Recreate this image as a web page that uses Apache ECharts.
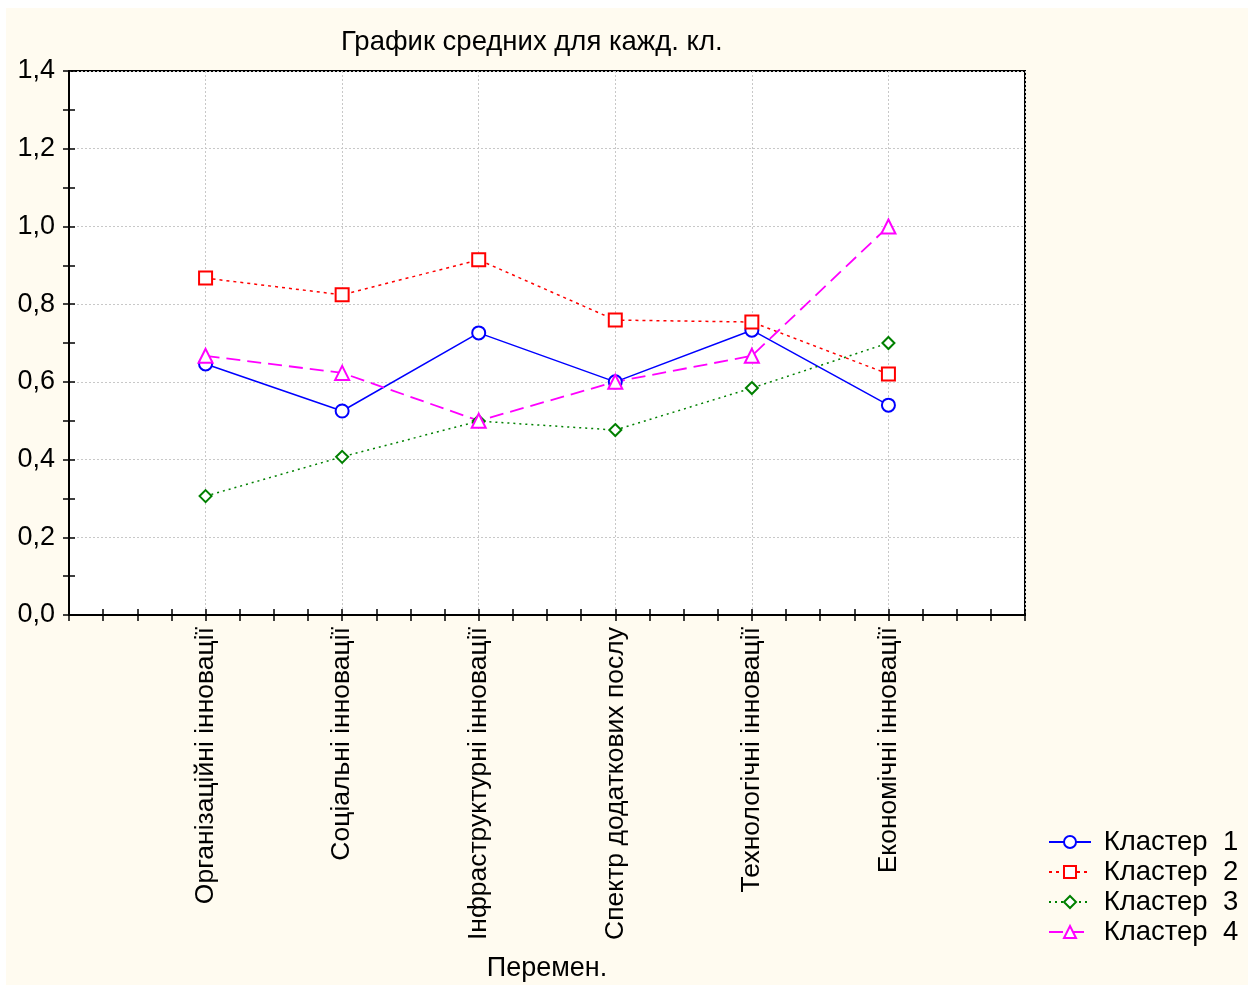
<!DOCTYPE html>
<html>
<head>
<meta charset="utf-8">
<script src="https://cdn.jsdelivr.net/npm/echarts@6/dist/echarts.min.js"></script>
<style>
html,body{margin:0;padding:0;background:#fff;}
#bg{position:absolute;left:6px;top:8px;width:1242px;height:977px;background:#fffbf0;}
#chart{position:absolute;left:0;top:0;width:1252px;height:987px;}
</style>
</head>
<body>
<div id="bg"></div>
<div id="chart"></div>
<script>
const categories = ['Організаційні інновації','Соціальні інновації','Інфраструктурні інновації','Спектр додаткових послу','Технологічні інновації','Економічні інновації'];
const seriesNames = ['Кластер  1','Кластер  2','Кластер  3','Кластер  4'];
const cluster1 = [0.646, 0.525, 0.726, 0.600, 0.733, 0.540];
const cluster2 = [0.867, 0.824, 0.914, 0.759, 0.754, 0.620];
const cluster3 = [0.306, 0.407, 0.499, 0.476, 0.584, 0.700];
const cluster4 = [0.667, 0.623, 0.500, 0.600, 0.667, 1.000];
const yTicks = [0, 0.2, 0.4, 0.6, 0.8, 1.0, 1.2, 1.4];

const FONT = 'Liberation Sans, Arial, sans-serif';
const toPts = vals => vals.map((v, i) => [i + 1, v]);

function mk(name, vals, color, symbol, size, dash, lw) {
  return {
    name: name, type: 'line', data: toPts(vals), xAxisIndex: 0, yAxisIndex: 0,
    symbol: symbol, symbolSize: size,
    lineStyle: {color: color, width: lw, type: dash},
    itemStyle: {color: '#ffffff', borderColor: color, borderWidth: 2},
    emphasis: {disabled: true},
    animation: false
  };
}

const blackLine = {show: true, lineStyle: {color: '#000', width: 2}};
const fineTick = {show: true, inside: true, length: 6, lineStyle: {color: '#000', width: 1.5}};
function tickX(pos) {
  return {type: 'value', min: 0, max: 7, interval: 0.25, position: pos,
    axisLine: blackLine, axisTick: fineTick, splitLine: {show: false}, axisLabel: {show: false}};
}
function tickY(pos) {
  return {type: 'value', min: 0, max: 1.4, interval: 0.1, position: pos,
    axisLine: blackLine, axisTick: fineTick, splitLine: {show: false}, axisLabel: {show: false}};
}

const chart = echarts.init(document.getElementById('chart'));
chart.setOption({
  backgroundColor: 'transparent',
  animation: false,
  title: {
    text: 'График средних для кажд. кл.',
    left: 336, top: 23,
    textStyle: {fontFamily: FONT, fontSize: 27.5, fontWeight: 'normal', color: '#000'}
  },
  legend: {
    orient: 'vertical', left: 1043, top: 823,
    itemWidth: 42, itemHeight: 15, itemGap: 2,
    formatter: n => ' ' + n,
    textStyle: {fontFamily: FONT, fontSize: 27.5, color: '#000'},
    data: seriesNames
  },
  grid: {left: 69, right: 227, top: 71, bottom: 372, outerBoundsMode: 'none', containLabel: false,
    show: true, backgroundColor: '#fff', borderColor: '#000', borderWidth: 2},
  xAxis: [{
    type: 'value', min: 0, max: 7, interval: 1, position: 'bottom',
    axisLine: blackLine,
    axisTick: {show: false},
    splitLine: {show: true, lineStyle: {color: '#c8c8c8', type: [2, 2], width: 1}},
    axisLabel: {
      rotate: 90, margin: 12, fontFamily: FONT, fontSize: 26.5, color: '#000',
      formatter: v => (v >= 1 && v <= categories.length) ? categories[v - 1] : ''
    },
    name: 'Перемен.', nameLocation: 'middle', nameGap: 340,
    nameTextStyle: {fontFamily: FONT, fontSize: 27, color: '#000'}
  }, tickX('top'), tickX('bottom')],
  yAxis: [{
    type: 'value', min: 0, max: 1.4, interval: 0.2, position: 'left',
    axisLine: blackLine,
    axisTick: {show: false},
    splitLine: {show: true, lineStyle: {color: '#c8c8c8', type: [2, 2], width: 1}},
    axisLabel: {
      margin: 14, fontFamily: FONT, fontSize: 27, color: '#000',
      formatter: v => {
        const t = yTicks.find(x => Math.abs(x - v) < 1e-6);
        return (t === undefined ? v : t).toFixed(1).replace('.', ',');
      }
    }
  }, tickY('right'), tickY('left')],
  series: [
    mk(seriesNames[0], cluster1, '#0000ff', 'circle', 13, 'solid', 1.5),
    mk(seriesNames[1], cluster2, '#ff0000', 'rect', 13, [3, 4], 1.5),
    mk(seriesNames[2], cluster3, '#008000', 'diamond', 12, [2, 4], 1.5),
    mk(seriesNames[3], cluster4, '#ff00ff', 'triangle', 14, [14, 7], 1.8)
  ]
});
</script>
</body>
</html>
